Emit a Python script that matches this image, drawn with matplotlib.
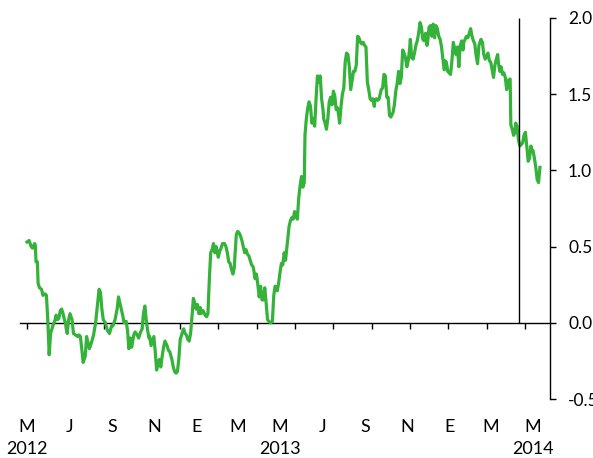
import matplotlib
matplotlib.use("Agg")
import matplotlib.pyplot as plt
import matplotlib.transforms as mtransforms
import numpy as np
import pandas as pd

# days since 1 May 2012, and the plotted series
day = [
    0, 3, 6, 8, 11, 12, 13, 15, 16, 18,
    21, 23, 26, 28, 30, 32, 34, 36, 38, 40,
    42, 44, 46, 48, 50, 52, 54, 56, 58, 60,
    62, 65, 67, 70, 73, 75, 77, 79, 81, 84,
    86, 88, 90, 93, 96, 99, 101, 104, 106, 108,
    110, 113, 116, 119, 122, 124, 127, 130, 132, 134,
    136, 138, 140, 143, 145, 147, 149, 151, 154, 156,
    159, 161, 164, 166, 168, 170, 172, 174, 176,
    177, 179, 181, 183, 185, 187, 189, 191, 193, 195,
    197, 199, 202, 204, 206, 209, 211, 213, 215, 217,
    219, 221, 223, 225, 226, 228, 230, 232, 234, 236,
    238, 240, 242, 244, 246, 248, 250, 251, 254, 257,
    259, 261, 263, 265, 267, 269, 271, 273, 275, 276,
    278, 280, 282, 285, 287, 289, 291, 293, 295, 297,
    299, 300, 302, 304, 306, 308, 310, 312, 314, 316,
    318, 320, 322, 324, 326, 327, 329, 331, 333, 335,
    337, 339, 341, 343, 345, 347, 349, 351,
    352, 354, 356, 358, 361, 363, 365, 367, 369, 371,
    373, 375, 376, 378, 380, 382, 384, 386, 388, 390,
    392, 394, 396, 398, 400, 401, 403, 405, 407, 409,
    411, 413, 415, 417, 419, 421, 423, 425, 427, 428,
    430, 432, 434, 436, 438, 440, 442, 444, 446, 448,
    450, 451, 453, 455, 457, 459, 461, 463, 465, 467,
    469, 471, 473, 475, 477, 479, 481, 483, 485, 487,
    489, 491, 493, 495, 497, 499, 501, 502, 504, 506,
    508,
    511, 513, 515, 517, 519, 521, 523, 525, 526, 528,
    530, 532, 534, 536, 538, 540, 542, 544, 546, 548,
    550, 552, 553, 555, 557, 559, 561, 563, 565, 567,
    569, 571, 573, 575, 577, 578, 580, 582, 584, 586,
    588, 590, 592, 594, 596, 598, 600, 602, 603, 605,
    607, 609, 611, 613, 615, 617, 619, 621, 623, 625,
    627, 629, 630, 632, 634, 636, 638, 640, 642, 644,
    646, 648, 650, 652, 654, 655, 657, 659, 661, 663,
    665, 667, 669, 671, 673, 675, 677, 679, 680, 682,
    684, 686, 688, 690, 692, 694, 697, 698, 700, 702,
    704, 705, 707, 709, 711, 713, 715, 717, 719, 721,
    723, 725, 727, 728, 730, 732, 734, 736, 738, 740,
]
spread = [
    0.53, 0.54, 0.50, 0.49, 0.52, 0.51, 0.40, 0.40, 0.26, 0.23,
    0.22, 0.18, 0.19, 0.18, 0.02, -0.21, -0.07, -0.04, -0.01, 0.01,
    0.05, 0.02, 0.03, 0.08, 0.09, 0.06, 0.02, -0.01, -0.07, 0.02,
    0.06, 0.02, -0.07, -0.08, -0.09, -0.08, -0.09, -0.17, -0.26, -0.22,
    -0.09, -0.13, -0.17, -0.13, -0.08, 0.00, 0.09, 0.22, 0.20, 0.09,
    0.02, 0.00, -0.05, -0.07, -0.02, -0.02, 0.02, 0.09, 0.17, 0.13,
    0.09, 0.05, 0.00, 0.01, -0.05, -0.17, -0.10, -0.16, -0.08, -0.06,
    -0.08, -0.10, -0.06, -0.04, 0.06, 0.11, 0.02, -0.05, -0.10,
    -0.09, -0.15, -0.12, -0.09, -0.19, -0.31, -0.27, -0.24, -0.29, -0.22,
    -0.16, -0.12, -0.15, -0.18, -0.19, -0.24, -0.29, -0.32, -0.33, -0.32,
    -0.24, -0.11, -0.08, -0.05, -0.04, -0.07, -0.08, -0.11, -0.12, -0.07,
    0.04, 0.16, 0.13, 0.09, 0.12, 0.06, 0.10, 0.06, 0.08, 0.05,
    0.04, 0.06, 0.28, 0.46, 0.48, 0.52, 0.46, 0.50, 0.45, 0.43,
    0.47, 0.49, 0.52, 0.52, 0.50, 0.46, 0.40, 0.39, 0.35, 0.32,
    0.36, 0.44, 0.58, 0.60, 0.59, 0.57, 0.54, 0.50, 0.46, 0.48,
    0.45, 0.44, 0.41, 0.38, 0.37, 0.35, 0.29, 0.32, 0.25, 0.17,
    0.24, 0.15, 0.15, 0.23, 0.13, 0.02, 0.01, 0.00,
    0.00, 0.01, 0.18, 0.24, 0.21, 0.26, 0.33, 0.39, 0.38, 0.46,
    0.41, 0.50, 0.54, 0.63, 0.67, 0.69, 0.68, 0.73, 0.70, 0.68,
    0.82, 0.90, 0.96, 0.89, 0.92, 1.23, 1.34, 1.41, 1.45, 1.42,
    1.31, 1.34, 1.29, 1.47, 1.62, 1.58, 1.62, 1.47, 1.40, 1.34,
    1.31, 1.27, 1.34, 1.45, 1.48, 1.43, 1.52, 1.49, 1.40, 1.41,
    1.35, 1.31, 1.42, 1.50, 1.54, 1.71, 1.77, 1.76, 1.68, 1.53,
    1.59, 1.65, 1.65, 1.69, 1.88, 1.87, 1.84, 1.83, 1.84, 1.82,
    1.81, 1.58, 1.53, 1.47, 1.46, 1.47, 1.42, 1.46, 1.47, 1.46,
    1.47,
    1.53, 1.54, 1.63, 1.62, 1.48, 1.48, 1.36, 1.35, 1.36, 1.38,
    1.43, 1.52, 1.57, 1.65, 1.57, 1.61, 1.79, 1.77, 1.74, 1.68,
    1.72, 1.80, 1.86, 1.74, 1.73, 1.77, 1.82, 1.85, 1.90, 1.97,
    1.94, 1.86, 1.85, 1.90, 1.82, 1.84, 1.94, 1.95, 1.88, 1.96,
    1.87, 1.95, 1.93, 1.88, 1.86, 1.81, 1.73, 1.66, 1.72, 1.71,
    1.65, 1.64, 1.63, 1.72, 1.84, 1.80, 1.76, 1.81, 1.68, 1.82,
    1.85, 1.79, 1.84, 1.86, 1.88, 1.87, 1.90, 1.93, 1.88, 1.85,
    1.83, 1.75, 1.70, 1.82, 1.85, 1.86, 1.84, 1.76, 1.73, 1.75,
    1.77, 1.72, 1.71, 1.66, 1.61, 1.69, 1.73, 1.76, 1.71, 1.65,
    1.68, 1.63, 1.64, 1.61, 1.53, 1.59, 1.60, 1.30, 1.27, 1.23,
    1.25, 1.31, 1.29, 1.20, 1.16, 1.17, 1.18, 1.23, 1.25, 1.16,
    1.06, 1.08, 1.16, 1.14, 1.13, 1.08, 1.02, 0.94, 0.92, 1.02,
]

month_labels = ['M', 'J', 'S', 'N', 'E', 'M', 'M', 'J', 'S', 'N', 'E', 'M', 'M']
year_labels = {0: '2012', 6: '2013', 12: '2014'}
marker_day = 710
yticks = [-0.5, 0.0, 0.5, 1.0, 1.5, 2.0]

start = pd.Timestamp('2012-05-01')
label_days = [(d - start).days for d in pd.date_range(start, periods=13, freq='2MS')]

plt.rcParams['font.family'] = ['Lato', 'DejaVu Sans']

fig = plt.figure(figsize=(5.93, 4.58), dpi=100)
ax = fig.add_axes([20 / 593, 1 - 399 / 458, 530 / 593, 381 / 458])

ax.plot(day, spread, color='#34b23a', lw=2.3, solid_joinstyle='round', zorder=3)
ax.vlines(marker_day, 0, 2.0, color='black', lw=1.0, zorder=4)

ax.set_xlim(-10.1, 754.5)
ax.set_ylim(-0.5, 2.0)

for s in ['left', 'top']:
    ax.spines[s].set_visible(False)
ax.spines['bottom'].set_position(('data', 0))
ax.spines['bottom'].set_linewidth(1.0)
ax.spines['right'].set_linewidth(1.0)

ax.set_xticks(np.arange(14) * 55.25)
ax.tick_params(axis='x', direction='out', length=4, width=1.0, labelbottom=False)

ax.yaxis.tick_right()
ax.set_yticks(yticks)
ax.set_yticklabels([f'{v:.1f}' for v in yticks])
ax.tick_params(axis='y', direction='out', length=4, width=1.0, pad=9, labelsize=12.5)

tr = mtransforms.blended_transform_factory(ax.transData, fig.transFigure)
for i, (d, lab) in enumerate(zip(label_days, month_labels)):
    ax.text(d, 1 - 427 / 458, lab, transform=tr, ha='center', va='center', fontsize=13)
    if i in year_labels:
        ax.text(d, 1 - 449 / 458, year_labels[i], transform=tr,
                ha='center', va='center', fontsize=13)

fig.savefig('out.png', dpi=100)
